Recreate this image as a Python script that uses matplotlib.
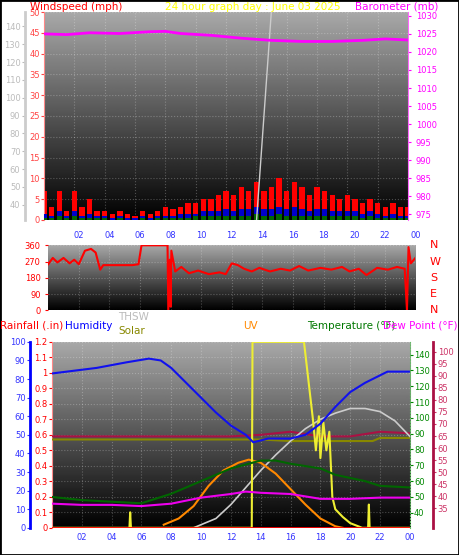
import numpy as np
import matplotlib.pyplot as plt

# ---- data ----
hours = np.arange(0, 24.5, 0.5)
gust = [7, 3, 7, 2, 7, 3, 5, 2, 2, 1.5, 2, 1.5, 1, 2, 1.5, 2, 3, 2.5, 3, 4, 4, 5, 5, 6,
        7, 6, 8, 7, 9, 7, 8, 10, 7, 9, 8, 6, 8, 7, 6, 5, 6, 5, 4, 5, 4, 3, 4, 3, 3]
wind_avg = [1.5, 1, 2, 1, 2, 1, 1.5, 1, 1, 0.5, 1, 0.5, 0.5, 1, 0.5, 1, 1, 1, 1.5, 1.5, 1.5, 2, 2, 2,
            2.5, 2, 2.5, 2.5, 3, 2.5, 2.5, 3, 2.5, 3, 2.5, 2, 2.5, 2.5, 2, 2, 2, 2, 1.5, 2, 1.5, 1, 1.5, 1, 1]
wind_low = [0.5, 0.5, 1, 0.5, 1, 0.5, 0.5, 0.5, 0.5, 0, 0.5, 0, 0, 0.5, 0, 0.5, 0.5, 0.5, 0.5, 0.5, 1, 1, 1, 1,
            1, 1, 1, 1, 1.5, 1, 1, 1.5, 1, 1, 1, 1, 1, 1, 1, 1, 1, 1, 0.5, 1, 0.5, 0.5, 0.5, 0.5, 0.5]

baro_h = [0, 1.5, 3, 5, 7, 8, 9, 11, 13, 15, 17, 19, 21, 22.5, 24]
baro = [1025, 1024.8, 1025.3, 1025.1, 1025.6, 1025.7, 1025.1, 1024.6, 1023.8, 1023.2, 1022.9, 1022.9, 1023.2, 1023.6, 1023.3]

grey_h = [0, 14, 15, 24]
grey_top = [30, 30, 150, 150]

dir_h = [0, 0.3, 0.6, 1, 1.4, 1.7, 2, 2.4, 2.8, 3.1, 3.4, 3.6, 5.5, 5.9, 6.1, 7.8, 7.85, 7.95, 8.0, 8.05,
         8.3, 8.7, 9.2, 9.8, 10.5, 11.2, 11.6, 12.0, 12.4, 12.8, 13.3, 13.8, 14.5, 15.2, 15.8, 16.4, 17,
         17.8, 18.5, 19.2, 19.7, 20.3, 20.8, 21.5, 22.2, 22.8, 23.3, 23.45, 23.55, 23.7, 24]
wdir = [255, 290, 265, 290, 260, 280, 255, 330, 340, 320, 225, 250, 250, 255, 360, 360, 0, 280, 20, 330,
        215, 240, 205, 220, 200, 210, 200, 260, 250, 230, 215, 235, 215, 230, 220, 245, 220,
        235, 225, 240, 215, 230, 195, 235, 225, 240, 230, 0, 350, 260, 290]

hum_h = [0, 1, 3, 5, 6.5, 7.3, 8, 9, 10, 11, 12, 13, 13.5, 14.5, 16, 17, 18, 19, 20, 21, 22, 22.5, 24]
humidity = [83, 84, 86, 89, 91, 90, 86, 78, 70, 62, 55, 50, 46, 48, 48, 50, 56, 65, 73, 78, 82, 84, 84]

temp_h = [0, 2, 4, 6, 8, 10, 12, 14, 15, 16, 18, 19, 20, 21, 22, 24]
temp = [50, 48, 47, 46, 52, 60, 68, 73, 73, 71, 68, 64, 62, 60, 57, 56]

dew_h = [0, 2, 4, 6, 8, 10, 12, 13, 14, 16, 18, 20, 22, 24]
dew = [37, 36.5, 36.5, 36, 37, 39.5, 41, 42, 41.5, 41, 39, 39, 39.5, 39.5]

crim_h = [0, 4, 8, 12, 14, 16, 18, 20, 22, 24]
crim = [0.59, 0.59, 0.59, 0.59, 0.6, 0.62, 0.59, 0.59, 0.62, 0.61]
olive_h = [0, 4, 8, 12, 14, 16, 18, 20, 21.5, 22, 24]
olive = [0.57, 0.57, 0.57, 0.57, 0.57, 0.56, 0.56, 0.56, 0.56, 0.58, 0.58]

thsw_h = [9.5, 11, 12, 13, 14, 15, 16, 17, 18, 19, 20, 21, 22, 23, 24]
thsw = [0.0, 0.06, 0.15, 0.26, 0.37, 0.47, 0.56, 0.64, 0.70, 0.74, 0.77, 0.77, 0.75, 0.69, 0.59]

uvarc_h = [7.5, 8.5, 9.5, 10.5, 11.5, 12.5, 13.2, 14, 15, 16, 17, 18, 19, 19.5]
uvarc = [0.02, 0.06, 0.14, 0.27, 0.37, 0.42, 0.44, 0.42, 0.35, 0.25, 0.15, 0.06, 0.01, 0.0]

yel_h = [0, 5.2, 5.25, 5.3, 13.4, 13.45, 16.9, 17.5, 17.7, 17.9, 18.0, 18.2, 18.4, 18.6, 18.8, 19.0, 19.5, 20,
         20.8, 21.2, 21.25, 21.3, 24]
yel = [0, 0, 0.1, 0, 0, 1.2, 1.2, 0.7, 0.5, 0.72, 0.45, 0.68, 0.5, 0.62, 0.2, 0.12, 0.07, 0.03,
       0, 0, 0.15, 0, 0]

ticks = list(range(2, 25, 2))
tick_lbls = ['%02d' % (t % 24) for t in ticks]

fig = plt.figure(figsize=(4.59, 5.55), dpi=100)
fig.patch.set_facecolor('white')
grad = np.linspace(0.66, 0.0, 200).reshape(-1, 1)


def panel(rect):
    ax = fig.add_axes(rect)
    ax.imshow(grad, cmap='gray', vmin=0, vmax=1, aspect='auto',
              extent=(0, 1, 0, 1), transform=ax.transAxes, zorder=0)
    ax.set_xlim(0, 24)
    ax.set_xticks(ticks)
    ax.grid(True, color='white', alpha=0.25, linestyle=':', linewidth=0.8)
    ax.tick_params(labelsize=6, length=2)
    for s in ax.spines.values():
        s.set_visible(False)
    return ax


# top panel
ax1 = panel([0.096, 0.604, 0.793, 0.374])
ax1.set_ylim(0, 50)
ax1.set_yticks(range(0, 51, 5))
ax1.set_yticklabels([str(v) for v in range(0, 51, 5)])
ax1.tick_params(axis='y', colors='#ff4444', pad=1)
ax1.spines['left'].set_visible(True)
ax1.spines['left'].set_color('#ff8888')
ax1.tick_params(axis='x', labelbottom=False, length=0)
ax1.bar(hours, gust, width=0.35, color='red', zorder=2)
ax1.bar(hours, wind_avg, width=0.35, color='#0000cc', zorder=3)
ax1.bar(hours, wind_low, width=0.35, color='#006600', zorder=4)

axg = ax1.twinx()
axg.set_ylim(31.5, 148)
axg.yaxis.set_ticks_position('left')
axg.spines['left'].set_position(('outward', 14))
axg.spines['left'].set_color('#cccccc')
axg.spines['left'].set_linewidth(2)
for k in ['right', 'top', 'bottom']:
    axg.spines[k].set_visible(False)
axg.set_yticks(range(40, 141, 10))
axg.tick_params(axis='y', colors='#bbbbbb', labelsize=6, length=2, pad=1)
axg.plot(grey_h, grey_top, color='#cccccc', linewidth=1)

axb = ax1.twinx()
axb.set_ylim(973.5, 1031)
axb.set_yticks(range(975, 1031, 5))
axb.tick_params(axis='y', colors='#ff00ff', labelsize=6, length=2)
for k in axb.spines:
    axb.spines[k].set_visible(False)
axb.spines['right'].set_visible(True)
axb.spines['right'].set_color('#ff66ff')
axb.plot(baro_h, baro, color='#ff00ff', linewidth=2)

fig.text(0.065, 0.988, 'Windspeed (mph)', color='red', fontsize=7.5, va='center')
fig.text(0.55, 0.988, '24 hour graph day : June 03 2025', color='yellow', fontsize=7.5, ha='center', va='center')
fig.text(0.955, 0.988, 'Barometer (mb)', color='#ff00ff', fontsize=7.5, ha='right', va='center')

# middle panel
ax2 = panel([0.105, 0.441, 0.8, 0.117])
ax2.set_ylim(0, 360)
ax2.set_yticks(range(0, 361, 90))
ax2.tick_params(axis='y', colors='red')
ax2.xaxis.set_ticks_position('top')
ax2.set_xticklabels(tick_lbls)
ax2.tick_params(axis='x', colors='#3333ff', length=0, pad=4)
ax2.plot(dir_h, wdir, color='red', linewidth=1.5, zorder=3)
for v, lab in zip(range(0, 361, 90), ['N', 'E', 'S', 'W', 'N']):
    ax2.text(1.04, v / 360, lab, color='red', fontsize=8, transform=ax2.transAxes, va='center')

# bottom panel
ax3 = panel([0.113, 0.049, 0.78, 0.335])
ax3.set_ylim(0, 1.2)
ax3.set_yticks(np.arange(0, 1.21, 0.1))
ax3.set_yticklabels(['0', '0.1', '0.2', '0.3', '0.4', '0.5', '0.6', '0.7', '0.8', '0.9', '1', '1.1', '1.2'])
ax3.tick_params(axis='y', colors='red', pad=1)
ax3.spines['left'].set_visible(True)
ax3.spines['left'].set_color('#ff8888')
ax3.set_xticklabels(tick_lbls)
ax3.tick_params(axis='x', colors='#3333ff', length=0)
ax3.plot(crim_h, crim, color='#aa1144', linewidth=1.5, zorder=3)
ax3.plot(olive_h, olive, color='#888800', linewidth=1.5, zorder=3)
ax3.plot(thsw_h, thsw, color='#cccccc', linewidth=1.2, zorder=3)
ax3.plot(uvarc_h, uvarc, color='#ff8800', linewidth=1.5, zorder=3)
ax3.plot(yel_h, yel, color='#eeee33', linewidth=1.5, zorder=4)
ax3.plot([0, 24], [0, 0], color='red', linewidth=2, zorder=5)

axh = ax3.twinx()
axh.set_ylim(0, 100)
axh.set_yticks(range(0, 101, 10))
axh.yaxis.set_ticks_position('left')
for k in axh.spines:
    axh.spines[k].set_visible(False)
axh.spines['left'].set_visible(True)
axh.spines['left'].set_position(('outward', 16))
axh.spines['left'].set_color('blue')
axh.spines['left'].set_linewidth(2)
axh.tick_params(axis='y', colors='#3333ff', labelsize=6, length=2, pad=1)
axh.plot(hum_h, humidity, color='#1111ee', linewidth=1.5, zorder=3)

axt = ax3.twinx()
axt.set_ylim(30.5, 148)
axt.set_yticks(range(40, 141, 10))
for k in axt.spines:
    axt.spines[k].set_visible(False)
axt.spines['right'].set_visible(True)
axt.spines['right'].set_color('#66bb66')
axt.spines['right'].set_linestyle(':')
axt.tick_params(axis='y', colors='#008800', labelsize=6, length=2, pad=1)
axt.plot(temp_h, temp, color='#006600', linewidth=1.5, zorder=3)

axd = ax3.twinx()
axd.set_ylim(27, 104)
axd.set_yticks(range(35, 101, 5))
for k in axd.spines:
    axd.spines[k].set_visible(False)
axd.spines['right'].set_visible(True)
axd.spines['right'].set_position(('outward', 17))
axd.spines['right'].set_color('#aa1144')
axd.spines['right'].set_linewidth(2)
axd.tick_params(axis='y', colors='#cc3366', labelsize=6, length=2, pad=1)
axd.plot(dew_h, dew, color='#ee00ee', linewidth=1.5, zorder=3)

fig.text(0.0, 0.413, 'Rainfall (.in)', color='red', fontsize=7.5, va='center')
fig.text(0.142, 0.413, 'Humidity', color='blue', fontsize=7.5, va='center')
fig.text(0.257, 0.428, 'THSW', color='#bbbbbb', fontsize=7.5, va='center')
fig.text(0.257, 0.403, 'Solar', color='#888800', fontsize=7.5, va='center')
fig.text(0.53, 0.413, 'UV', color='#ff8800', fontsize=7.5, va='center')
fig.text(0.67, 0.413, 'Temperature (°F)', color='#007700', fontsize=7.5, va='center')
fig.text(0.997, 0.413, 'Dew Point (°F)', color='#ff00ff', fontsize=7.5, ha='right', va='center')

fig.add_artist(plt.Rectangle((0, 0), 1, 1, transform=fig.transFigure, fill=False,
                             edgecolor='black', linewidth=2))

plt.savefig('out.png', dpi=100)
